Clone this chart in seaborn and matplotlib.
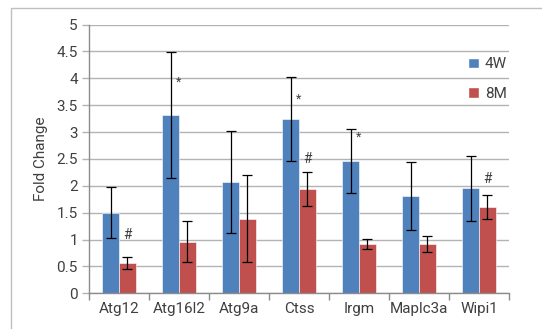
import numpy as np
import pandas as pd
import matplotlib.pyplot as plt
import seaborn as sns
from matplotlib.patches import Rectangle, Patch

genes = ['Atg12', 'Atg16l2', 'Atg9a', 'Ctss', 'Irgm', 'Maplc3a', 'Wipi1']
groups = ['4W', '8M']
fc_4w = [1.50, 3.31, 2.07, 3.25, 2.46, 1.81, 1.95]
fc_8m = [0.57, 0.96, 1.39, 1.94, 0.92, 0.91, 1.60]
err_4w = [0.48, 1.17, 0.95, 0.78, 0.60, 0.63, 0.60]
err_8m = [0.11, 0.38, 0.81, 0.31, 0.09, 0.15, 0.22]

# significance marks: (gene, group, label, y)
marks = [('Atg16l2', '4W', '*', 3.93), ('Ctss', '4W', '*', 3.62), ('Irgm', '4W', '*', 2.91),
         ('Atg12', '8M', '#', 1.08), ('Ctss', '8M', '#', 2.50), ('Wipi1', '8M', '#', 2.12)]

colors = {'4W': '#4F81BD', '8M': '#C0504D'}

df = pd.DataFrame({
    'gene': genes * 2,
    'group': ['4W'] * len(genes) + ['8M'] * len(genes),
    'fc': fc_4w + fc_8m,
    'err': err_4w + err_8m,
})

sns.set_style('white')
plt.rcParams['font.family'] = ['Roboto', 'DejaVu Sans']
txt = '#404040'
grid = '#b3b3b3'
axis_c = '#8c8c8c'

fig = plt.figure(figsize=(5.42, 3.29), dpi=100)
ax = fig.add_axes([89 / 542, 1 - 293.3 / 329, 420 / 542, 268.8 / 329])

sns.barplot(data=df, x='gene', y='fc', hue='group', order=genes, hue_order=groups,
            palette=colors, width=0.56, errorbar=None, saturation=1,
            edgecolor='white', linewidth=0.4, ax=ax, zorder=2)

# error bars and marks at the bar centres
centres = {}
for bars, g in zip(ax.containers, groups):
    for patch, gene in zip(bars, genes):
        centres[(gene, g)] = patch.get_x() + patch.get_width() / 2
for _, row in df.iterrows():
    ax.errorbar(centres[(row['gene'], row['group'])], row['fc'], yerr=row['err'],
                fmt='none', ecolor='black', elinewidth=0.9, capsize=3.8,
                capthick=0.9, zorder=3)
for gene, g, lab, y in marks:
    dx = 0.13 if lab == '*' else 0.0
    ax.text(centres[(gene, g)] + dx, y, lab, ha='center', va='center',
            fontsize=10 if lab == '#' else 9, color=txt)

ax.set_ylim(0, 5)
ax.set_xlim(-0.5, len(genes) - 0.5)
ax.set_yticks(np.arange(0, 5.01, 0.5))
ax.set_yticklabels(['0', '0.5', '1', '1.5', '2', '2.5', '3', '3.5', '4', '4.5', '5'])
ax.yaxis.grid(True, color=grid, linewidth=1.0, zorder=0)
ax.set_axisbelow(True)
ax.set_xlabel('')
ax.set_ylabel('Fold Change', fontsize=11, color=txt, labelpad=6)

for s in ['top', 'right']:
    ax.spines[s].set_visible(False)
for s in ['left', 'bottom']:
    ax.spines[s].set_color(axis_c)
    ax.spines[s].set_linewidth(1.0)

ax.tick_params(axis='y', length=5, width=1.0, color=grid, labelsize=11,
               labelcolor=txt, pad=3, left=True)
ax.tick_params(axis='x', which='major', length=0, labelsize=11, labelcolor=txt, pad=6)
ax.set_xticks(np.arange(-0.5, len(genes)), minor=True)
ax.tick_params(axis='x', which='minor', length=5, width=1.0, color=axis_c, bottom=True)

ax.legend(handles=[Patch(facecolor=colors[g], label=g) for g in groups],
          loc='upper right', bbox_to_anchor=(0.995, 0.878), frameon=False,
          fontsize=11, handlelength=0.7, handleheight=0.7, handletextpad=0.4,
          labelspacing=1.0, borderpad=0, borderaxespad=0, labelcolor=txt)

fig.patches.append(Rectangle((11 / 542, -0.1), 1.0, 1.1 - 8 / 329,
                             transform=fig.transFigure, fill=False,
                             edgecolor='#bfbfbf', linewidth=1.0))

fig.savefig('out.png', dpi=100)
